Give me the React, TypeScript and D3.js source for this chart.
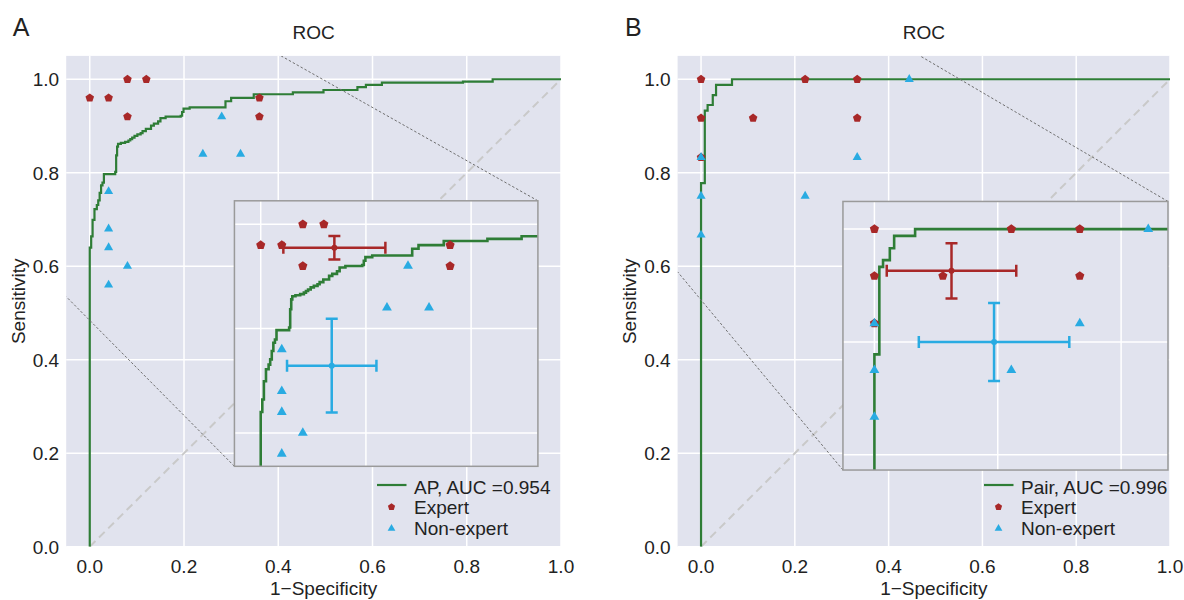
import * as React from 'react';
import * as d3 from 'd3';

const tickValues = [0, 0.2, 0.4, 0.6, 0.8, 1.0];
const tickLabels = ['0.0', '0.2', '0.4', '0.6', '0.8', '1.0'];

// Panel A: AP
const rocAx = [0, 0, 0.003, 0.006, 0.010, 0.015, 0.018, 0.021, 0.024, 0.027, 0.030, 0.054, 0.056, 0.058, 0.060, 0.066, 0.075, 0.082, 0.086, 0.090, 0.095, 0.101, 0.108, 0.112, 0.119, 0.130, 0.136, 0.145, 0.150, 0.161, 0.193, 0.196, 0.199, 0.212, 0.288, 0.300, 0.348, 0.431, 0.496, 0.568, 0.586, 0.620, 0.792, 0.855, 1.0];
const rocAy = [0, 0.640, 0.664, 0.699, 0.722, 0.731, 0.741, 0.757, 0.773, 0.779, 0.797, 0.802, 0.837, 0.856, 0.862, 0.864, 0.866, 0.869, 0.872, 0.875, 0.879, 0.882, 0.885, 0.889, 0.894, 0.901, 0.905, 0.910, 0.917, 0.920, 0.922, 0.930, 0.937, 0.940, 0.953, 0.960, 0.968, 0.972, 0.977, 0.983, 0.988, 0.993, 0.995, 1.0, 1.0];
const expertAx = [0, 0.04, 0.08, 0.12, 0.08, 0.36, 0.36];
const expertAy = [0.96, 0.96, 1.0, 1.0, 0.92, 0.96, 0.92];
const nonExpertAx = [0.04, 0.04, 0.04, 0.08, 0.04, 0.24, 0.28, 0.32];
const nonExpertAy = [0.76, 0.68, 0.64, 0.60, 0.56, 0.84, 0.92, 0.84];
const expertMeanA = [0.14, 0.955];
const expertErrA = [0.097, 0.0225];
const nonExpertMeanA = [0.135, 0.729];
const nonExpertErrA = [0.085, 0.09];

// Panel B: Pair
const rocBx = [0, 0, 0.008, 0.014, 0.025, 0.032, 0.066, 1.0];
const rocBy = [0, 0.778, 0.933, 0.945, 0.966, 0.988, 1.0, 1.0];
const expertBx = [0, 0, 0, 0.111, 0.222, 0.333, 0.333];
const expertBy = [1.0, 0.917, 0.833, 0.917, 1.0, 1.0, 0.917];
const nonExpertBx = [0, 0, 0, 0.222, 0.333, 0.444];
const nonExpertBy = [0.833, 0.75, 0.667, 0.75, 0.833, 1.0];
const expertMeanB = [0.125, 0.926];
const expertErrB = [0.105, 0.049];
const nonExpertMeanB = [0.194, 0.80];
const nonExpertErrB = [0.122, 0.069];

const BG = '#e1e3ee';
const GREEN = '#2e7d36';
const RED = '#a82828';
const BLUE = '#29abe2';
const FONT = '"Liberation Sans", Arial, sans-serif';
const TXT = '#222';

const Y_BOTTOM = 546.7;
const Y_TOP = 55.9;

const symPentagon = {
  draw(ctx: any, size: number) {
    const r = Math.sqrt(size / 2.3776);
    for (let i = 0; i < 5; i++) {
      const a = -Math.PI / 2 + (i * 2 * Math.PI) / 5;
      const px = r * Math.cos(a);
      const py = r * Math.sin(a);
      if (i === 0) ctx.moveTo(px, py);
      else ctx.lineTo(px, py);
    }
    ctx.closePath();
  },
};

const pentPath = (size: number) => d3.symbol().type(symPentagon as any).size(size)() as string;
const triPath = (size: number) => d3.symbol().type(d3.symbolTriangle).size(size)() as string;

function Markers({ sx, sy, ex, ey, nx, ny, pSize, tSize }: any) {
  const p = pentPath(pSize);
  const t = triPath(tSize);
  return (
    <g>
      {ex.map((v: number, i: number) => (
        <path key={'e' + i} d={p} fill={RED} transform={`translate(${sx(v)},${sy(ey[i])})`} />
      ))}
      {nx.map((v: number, i: number) => (
        <path key={'n' + i} d={t} fill={BLUE} transform={`translate(${sx(v)},${sy(ny[i])})`} />
      ))}
    </g>
  );
}

function ErrBar({ sx, sy, mean, err, color }: any) {
  const cx = sx(mean[0]);
  const cy = sy(mean[1]);
  const xl = sx(mean[0] - err[0]);
  const xr = sx(mean[0] + err[0]);
  const yt = sy(mean[1] + err[1]);
  const yb = sy(mean[1] - err[1]);
  const cap = 6;
  return (
    <g stroke={color} strokeWidth={2.5} fill="none">
      <line x1={xl} x2={xr} y1={cy} y2={cy} />
      <line x1={cx} x2={cx} y1={yt} y2={yb} />
      <line x1={xl} x2={xl} y1={cy - cap} y2={cy + cap} />
      <line x1={xr} x2={xr} y1={cy - cap} y2={cy + cap} />
      <line x1={cx - cap} x2={cx + cap} y1={yt} y2={yt} />
      <line x1={cx - cap} x2={cx + cap} y1={yb} y2={yb} />
      <circle cx={cx} cy={cy} r={3} fill={color} stroke="none" />
    </g>
  );
}

function Panel(p: any) {
  const x = d3.scaleLinear().domain([-0.05, 1.0]).range(p.xRange);
  const y = d3.scaleLinear().domain([0, 1.05]).range([Y_BOTTOM, Y_TOP]);
  const [x0, x1] = p.xRange;
  const ib = p.insetBox; // [xl, xr, yb, yt] in main data coords
  const ix = d3.scaleLinear().domain(p.insetXLim).range([x(ib[0]), x(ib[1])]);
  const iy = d3.scaleLinear().domain(p.insetYLim).range([y(ib[2]), y(ib[3])]);
  const roc: [number, number][] = p.rocX.map((v: number, i: number) => [v, p.rocY[i]]);
  const mk = (sx: any, sy: any) =>
    d3.line<[number, number]>().x((d) => sx(d[0])).y((d) => sy(d[1])).curve(d3.curveStepAfter)(roc) as string;
  const cx = (x0 + x1) / 2;
  const cy = (Y_BOTTOM + Y_TOP) / 2;
  const legX = x1 - p.legendRight;
  const [ixl, ixr] = ix.range();
  const [iyb, iyt] = iy.range();
  return (
    <g>
      <defs>
        <clipPath id={p.id + '-main'}>
          <rect x={x0} y={Y_TOP} width={x1 - x0} height={Y_BOTTOM - Y_TOP} />
        </clipPath>
        <clipPath id={p.id + '-inset'}>
          <rect x={ixl} y={iyt} width={ixr - ixl} height={iyb - iyt} />
        </clipPath>
      </defs>
      <text x={p.letterX} y={36} fontFamily={FONT} fontSize={25} fill={TXT}>{p.letter}</text>
      <text x={cx} y={39} textAnchor="middle" fontFamily={FONT} fontSize={19} fill={TXT}>ROC</text>
      <rect x={x0} y={Y_TOP} width={x1 - x0} height={Y_BOTTOM - Y_TOP} fill={BG} />
      <g stroke="#fff" strokeWidth={1.5}>
        {tickValues.map((t) => (
          <line key={'gx' + t} x1={x(t)} x2={x(t)} y1={Y_TOP} y2={Y_BOTTOM} />
        ))}
        {tickValues.map((t) => (
          <line key={'gy' + t} x1={x0} x2={x1} y1={y(t)} y2={y(t)} />
        ))}
      </g>
      <g clipPath={`url(#${p.id}-main)`}>
        <line x1={x(0)} y1={y(0)} x2={x(1)} y2={y(1)} stroke="#c9c9c9" strokeWidth={2} strokeDasharray="8,5" />
        <path d={mk(x, y)} fill="none" stroke={GREEN} strokeWidth={2.2} />
        <Markers sx={x} sy={y} ex={p.ex} ey={p.ey} nx={p.nx} ny={p.ny} pSize={48} tSize={36} />
        <g stroke="#6f6f6f" strokeWidth={1} strokeDasharray="2.5,2">
          <line x1={x(ib[1])} y1={y(ib[3])} x2={x(p.conn1[0])} y2={y(p.conn1[1])} />
          <line x1={x(ib[0])} y1={y(ib[2])} x2={x(p.conn2[0])} y2={y(p.conn2[1])} />
        </g>
      </g>
      {/* inset */}
      <rect x={ixl} y={iyt} width={ixr - ixl} height={iyb - iyt} fill={BG} />
      <g clipPath={`url(#${p.id}-inset)`}>
        <g stroke="#fff" strokeWidth={1.5}>
          {tickValues.map((t) => (
            <line key={'igx' + t} x1={ix(t)} x2={ix(t)} y1={iyt} y2={iyb} />
          ))}
          {tickValues.map((t) => (
            <line key={'igy' + t} x1={ixl} x2={ixr} y1={iy(t)} y2={iy(t)} />
          ))}
        </g>
        <path d={mk(ix, iy)} fill="none" stroke={GREEN} strokeWidth={2.6} />
        <ErrBar sx={ix} sy={iy} mean={p.em} err={p.ee} color={RED} />
        <ErrBar sx={ix} sy={iy} mean={p.nm} err={p.ne} color={BLUE} />
        <Markers sx={ix} sy={iy} ex={p.ex} ey={p.ey} nx={p.nx} ny={p.ny} pSize={55} tSize={42} />
      </g>
      <rect x={ixl} y={iyt} width={ixr - ixl} height={iyb - iyt} fill="none" stroke="#9a9a9a" strokeWidth={1.5} />
      {/* axes labels */}
      <g fontFamily={FONT} fontSize={19} fill={TXT}>
        {tickValues.map((t, i) => (
          <text key={'tx' + t} x={Math.min(x(t), 1170)} y={572.5} textAnchor="middle">{tickLabels[i]}</text>
        ))}
        {tickValues.map((t, i) => (
          <text key={'ty' + t} x={x0 - 7} y={y(t) + 6.8} textAnchor="end">{tickLabels[i]}</text>
        ))}
        <text x={cx + 10} y={595} textAnchor="middle">1−Specificity</text>
        <text transform={`translate(${p.yLabelX},${cy}) rotate(-90)`} textAnchor="middle">Sensitivity</text>
      </g>
      {/* legend */}
      <g fontFamily={FONT} fontSize={19} fill={TXT}>
        <line x1={legX - 37} x2={legX - 7.5} y1={485} y2={485} stroke={GREEN} strokeWidth={2.2} />
        <text x={legX} y={493.5}>{p.aucLabel}</text>
        <path d={pentPath(34)} fill={RED} transform={`translate(${legX - 22.5},${507})`} />
        <text x={legX} y={514}>Expert</text>
        <path d={triPath(26)} fill={BLUE} transform={`translate(${legX - 22.5},${528.5})`} />
        <text x={legX} y={534.5}>Non-expert</text>
      </g>
    </g>
  );
}

export default function App() {
  return (
    <svg width={1184} height={600} style={{ position: 'absolute', left: 0, top: 0, background: '#fff' }}>
      <Panel
        id="pa"
        letter="A"
        letterX={12.7}
        xRange={[66.2, 561]}
        yLabelX={25}
        rocX={rocAx}
        rocY={rocAy}
        ex={expertAx}
        ey={expertAy}
        nx={nonExpertAx}
        ny={nonExpertAy}
        em={expertMeanA}
        ee={expertErrA}
        nm={nonExpertMeanA}
        ne={nonExpertErrA}
        insetBox={[0.307, 0.951, 0.172, 0.74]}
        insetXLim={[-0.05, 0.527]}
        insetYLim={[0.536, 1.045]}
        conn1={[0.406, 1.05]}
        conn2={[-0.05, 0.535]}
        legendRight={147}
        aucLabel="AP, AUC =0.954"
      />
      <Panel
        id="pb"
        letter="B"
        letterX={625}
        xRange={[677.6, 1170]}
        yLabelX={635.5}
        rocX={rocBx}
        rocY={rocBy}
        ex={expertBx}
        ey={expertBy}
        nx={nonExpertBx}
        ny={nonExpertBy}
        em={expertMeanB}
        ee={expertErrB}
        nm={nonExpertMeanB}
        ne={nonExpertErrB}
        insetBox={[0.3026, 0.9957, 0.164, 0.7386]}
        insetXLim={[-0.051, 0.476]}
        insetYLim={[0.573, 1.049]}
        conn1={[0.467, 1.05]}
        conn2={[-0.05, 0.588]}
        legendRight={149}
        aucLabel="Pair, AUC =0.996"
      />
    </svg>
  );
}
